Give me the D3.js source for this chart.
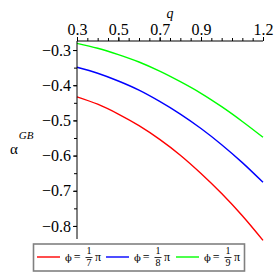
<!DOCTYPE html>
<html>
<head>
<meta charset="utf-8">
<script src="https://cdn.jsdelivr.net/npm/d3@7"></script>
<style>
  body { margin: 0; background: #fff; }
  svg text { font-family: "Liberation Serif", serif; }
  svg text .phi { font-family: "DejaVu Serif", serif; }
</style>
</head>
<body>
<div id="chart"></div>
<script>
const qs = [0.3, 0.4, 0.5, 0.6, 0.7, 0.8, 0.9, 1.0, 1.1, 1.2];
const phi7 = [-0.433, -0.454, -0.482, -0.515, -0.554, -0.599, -0.651, -0.708, -0.771, -0.841];
const phi8 = [-0.349, -0.366, -0.388, -0.414, -0.446, -0.482, -0.523, -0.569, -0.620, -0.676];
const phi9 = [-0.281, -0.295, -0.313, -0.334, -0.360, -0.390, -0.423, -0.461, -0.503, -0.548];
const seriesNames = ["7", "8", "9"];
const colors = ["#ff0000", "#0000ff", "#00ff00"];
const xTicks = [0.3, 0.5, 0.7, 0.9, 1.2];
const yTicks = [-0.3, -0.4, -0.5, -0.6, -0.7, -0.8];

const width = 278;
const height = 278;
const margin = {top: 41, left: 77, right: 15, bottom: 39};

const svg = d3.select("#chart")
  .append("svg")
  .attr("width", width)
  .attr("height", height);

const x = d3.scaleLinear()
  .domain([0.3, 1.2])
  .range([margin.left, width - margin.right]);

const y = d3.scaleLinear()
  .domain([-0.2743, -0.8371])
  .range([margin.top, height - margin.bottom]);

// curves
const line = d3.line()
  .x((d, i) => x(qs[i]))
  .y(d => y(d))
  .curve(d3.curveCatmullRom);

[phi7, phi8, phi9].forEach((s, k) => {
  svg.append("path")
    .attr("d", line(s))
    .attr("fill", "none")
    .attr("stroke", colors[k])
    .attr("stroke-width", 1.4);
});

// top x axis
const minorX = d3.range(0.3, 1.2001, 0.05);
svg.append("g")
  .attr("transform", `translate(0,${margin.top})`)
  .call(d3.axisTop(x).tickValues(minorX).tickSize(3).tickFormat(""))
  .call(g => g.select(".domain").remove());
svg.append("g")
  .attr("transform", `translate(0,${margin.top})`)
  .call(d3.axisTop(x).tickValues(xTicks).tickSize(4).tickPadding(2).tickFormat(d3.format(".1f")))
  .call(g => g.select(".domain").attr("d", `M${x(0.3)},0H${x(1.2)}`))
  .attr("font-size", 16)
  .attr("font-family", "Liberation Serif");

// left y axis
const minorY = d3.range(-0.3, -0.8371, -0.05);
svg.append("g")
  .attr("transform", `translate(${margin.left},0)`)
  .call(d3.axisLeft(y).tickValues(minorY).tickSize(3).tickFormat(""))
  .call(g => g.select(".domain").remove());
svg.append("g")
  .attr("transform", `translate(${margin.left},0)`)
  .call(d3.axisLeft(y).tickValues(yTicks).tickSize(4).tickPadding(2).tickFormat(d => "\u2212" + d3.format(".1f")(-d)))
  .call(g => g.select(".domain").attr("d", `M0,${y.range()[0]}V${y.range()[1]}`))
  .attr("font-size", 16)
  .attr("font-family", "Liberation Serif");

// axis titles
svg.append("text")
  .attr("x", 170).attr("y", 18)
  .attr("text-anchor", "middle")
  .attr("font-size", 14)
  .attr("font-style", "italic")
  .text("q");

const yl = svg.append("text")
  .attr("x", 10).attr("y", 154)
  .attr("font-size", 15);
yl.append("tspan").text("\u03b1");
yl.append("tspan")
  .attr("dx", 1).attr("dy", -15)
  .attr("font-size", 11)
  .attr("font-style", "italic")
  .text("GB");

// legend
const legend = svg.append("g");
legend.append("rect")
  .attr("x", 33.5).attr("y", 244)
  .attr("width", 211).attr("height", 27)
  .attr("fill", "#fff")
  .attr("stroke", "#808080")
  .attr("stroke-width", 1.6);

const legendX = [37, 106, 176];
seriesNames.forEach((n, k) => {
  const g = legend.append("g").attr("transform", `translate(${legendX[k]},0)`);
  g.append("line")
    .attr("x1", 0).attr("x2", 23)
    .attr("y1", 257).attr("y2", 257)
    .attr("stroke", colors[k])
    .attr("stroke-width", 1.4);
  const t = g.append("text")
    .attr("x", 28).attr("y", 261)
    .attr("font-size", 12);
  t.append("tspan").attr("class", "phi").attr("font-size", 10).text("\u03d5");
  t.append("tspan").attr("dx", 2).text("=");
  g.append("text")
    .attr("x", 52).attr("y", 254)
    .attr("text-anchor", "middle")
    .attr("font-size", 10)
    .text("1");
  g.append("line")
    .attr("x1", 48.5).attr("x2", 55.5)
    .attr("y1", 257.5).attr("y2", 257.5)
    .attr("stroke", "#000")
    .attr("stroke-width", 0.8);
  g.append("text")
    .attr("x", 52).attr("y", 266)
    .attr("text-anchor", "middle")
    .attr("font-size", 10)
    .text(n);
  g.append("text")
    .attr("x", 58).attr("y", 261)
    .attr("font-size", 12)
    .text("\u03c0");
});
</script>
</body>
</html>
